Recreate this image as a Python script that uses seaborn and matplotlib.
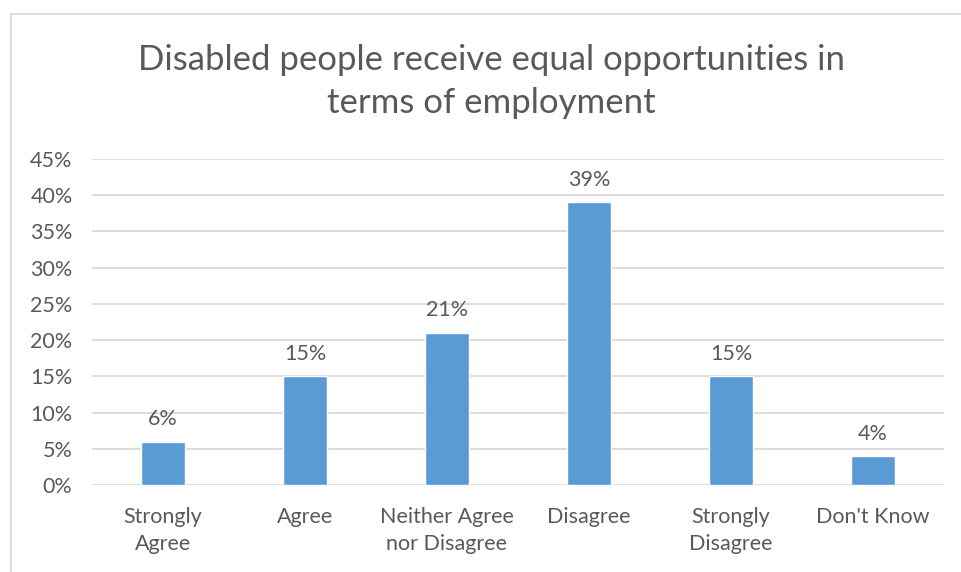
import matplotlib
matplotlib.use("Agg")
import matplotlib.pyplot as plt
import seaborn as sns
import pandas as pd
from matplotlib.lines import Line2D
from matplotlib.ticker import FuncFormatter

categories = ["Strongly\nAgree", "Agree", "Neither Agree\nnor Disagree", "Disagree", "Strongly\nDisagree", "Don't Know"]
values = [0.06, 0.15, 0.21, 0.39, 0.15, 0.04]
value_labels = ["6%", "15%", "21%", "39%", "15%", "4%"]
title = "Disabled people receive equal opportunities in\nterms of employment"

sns.set_theme(style="white")
plt.rcParams['font.family'] = ['Lato', 'DejaVu Sans']

text_color = "#595959"
bar_color = "#5B9BD5"
grid_color = "#D9D9D9"

fig = plt.figure(figsize=(9.61, 5.72), dpi=100)
ax = fig.add_axes([92/961, 1-485/572, (944-92)/961, (485-159)/572])

df = pd.DataFrame({"cat": categories, "val": values})
sns.barplot(data=df, x="cat", y="val", color=bar_color, width=0.31, ax=ax, saturation=1)

ax.set_ylim(0, 0.45)
ax.set_xlim(-0.5, len(categories) - 0.5)
ax.set_yticks([i * 0.05 for i in range(10)])
ax.yaxis.set_major_formatter(FuncFormatter(lambda v, p: f"{round(v*100)}%"))
ax.grid(axis="y", color=grid_color, linewidth=1.3)
ax.set_axisbelow(True)
for s in ax.spines.values():
    s.set_visible(False)
ax.set_xlabel("")
ax.set_ylabel("")
ax.tick_params(axis="both", length=0, labelsize=15.5, colors=text_color)
ax.tick_params(axis="x", pad=16)
ax.tick_params(axis="y", pad=14)
for lbl in ax.get_xticklabels():
    lbl.set_linespacing(1.45)

for i, (v, t) in enumerate(zip(values, value_labels)):
    ax.annotate(t, (i, v), xytext=(0, 9), textcoords="offset points",
                ha="center", va="bottom", fontsize=15.5, color=text_color)

fig.text(491.5/961, 1-44/572, title, ha="center", va="top", fontsize=25,
         color=text_color, linespacing=1.42)

fig.add_artist(Line2D([10.5/961, 10.5/961], [0, 1-14/572], color="#D9D9D9", linewidth=1.2, transform=fig.transFigure))
fig.add_artist(Line2D([10.5/961, 1], [1-14/572, 1-14/572], color="#D9D9D9", linewidth=1.2, transform=fig.transFigure))

fig.savefig("out.png", dpi=100, facecolor="white")
